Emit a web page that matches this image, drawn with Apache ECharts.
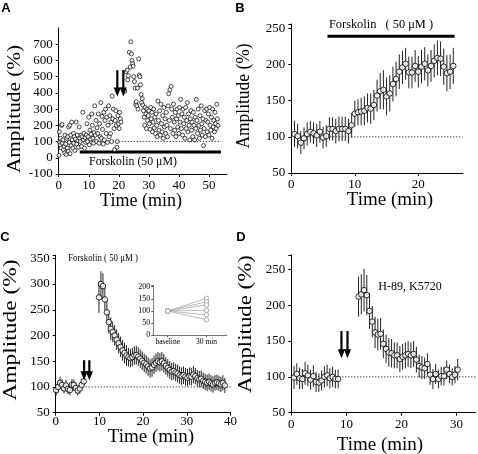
<!DOCTYPE html>
<html><head><meta charset="utf-8">
<script src="https://cdn.jsdelivr.net/npm/echarts@6/dist/echarts.min.js"></script>
<style>html,body{margin:0;padding:0;background:#fff}#c{width:478px;height:454px}</style>
</head><body><div id="c"></div>
<script>
// ---------- Panel A: individual amplitudes [time(min), amplitude(%)] ----------
const aPoints = [
[0.1,15],[0.2,160],[0.3,95],[0.5,80],[0.6,120],[0.8,60],[1.0,200],[1.1,205],[1.2,90],[1.4,110],[1.6,50],[1.8,70],[2.0,30],[2.1,140],[2.3,85],[2.5,20],[2.7,120],[2.9,60],[3.0,130],[3.2,40],[3.3,190],[3.5,95],[3.7,200],[3.8,25],[4.0,140],[4.2,75],[4.3,220],[4.5,110],[4.7,60],[4.9,150],[5.0,90],[5.2,130],[5.4,45],[5.6,115],[5.8,220],[6.0,85],[6.2,140],[6.4,105],[6.6,65],[6.8,190],[7.0,120],
[7.2,100],[7.4,140],[7.6,70],[7.8,130],[8.0,280],[8.2,110],[8.4,150],[8.6,60],[8.8,125],[9.0,95],[9.2,140],[9.4,210],[9.6,100],[9.8,130],[10.0,250],[10.2,80],[10.4,170],[10.6,115],[10.8,145],[11.0,270],[11.2,200],[11.4,120],[11.6,90],[11.8,155],[12.0,320],[12.2,140],[12.4,230],[12.6,100],[12.8,185],[13.0,150],[13.2,270],[13.4,90],[13.6,210],[13.8,130],[14.0,340],[14.2,120],[14.4,255],[14.6,175],[14.8,85],[15.0,280],[15.2,110],[15.4,230],[15.6,300],[15.8,150],[16.0,250],[16.2,95],[16.4,200],[16.6,320],[16.8,130],[17.0,260],[17.2,150],[17.4,220],[17.6,100],[17.8,380],[18.0,240],[18.2,300],[18.4,180],[18.6,50],[18.8,230],[19.0,290],[19.2,200],[19.4,65],[19.5,100],[19.7,260],[19.9,210],[20.1,180],[20.3,280],[20.5,240],[20.7,220],
[22.0,410],[22.4,530],[22.8,540],[23.0,480],[23.2,505],[23.5,650],[23.8,560],[24.0,715],[24.2,640],[24.4,600],[24.6,580],[24.8,565],[25.0,500],[25.2,470],[25.4,430],[25.6,330],[25.8,345],[26.0,320],[26.2,430],[26.4,300],[26.6,610],[26.8,510],[27.0,500],[27.2,450],[27.4,390],[27.6,340],[27.8,365],[28.0,325],[28.2,290],[28.4,250],
[28.6,200],[28.8,310],[29.0,270],[29.2,180],[29.4,300],[29.6,230],[29.8,260],[30.0,290],[30.2,210],[30.4,175],[30.6,310],[30.8,240],[31.0,280],[31.2,160],[31.4,220],[31.6,300],[31.8,185],[32.0,250],[32.2,150],[32.4,270],[32.6,200],[32.8,130],[33.0,350],[33.2,230],[33.4,170],[33.6,290],[33.8,140],[34.0,330],[34.2,210],[34.4,160],[34.6,260],[34.8,120],[35.0,310],[35.2,190],[35.4,240],[35.6,150],[35.8,280],[36.0,200],[36.2,130],[36.4,320],[36.6,395],[36.8,230],[37.0,420],[37.2,180],[37.4,440],[37.6,300],[37.8,250],[38.0,150],[38.2,330],[38.4,220],[38.6,170],[38.8,280],[39.0,130],[39.2,240],[39.4,300],[39.6,190],[39.8,260],[40.0,150],[40.2,310],[40.4,220],[40.6,360],[40.8,180],[41.0,270],[41.2,140],[41.4,300],[41.6,210],[41.8,250],[42.0,120],[42.2,310],[42.4,180],[42.6,230],[42.8,340],[43.0,160],[43.2,270],[43.4,200],[43.6,110],[43.8,240],[44.0,290],[44.2,170],[44.4,220],[44.6,130],[44.8,280],[45.0,200],[45.2,110],[45.4,250],[45.6,180],[45.8,360],[46.0,230],[46.2,150],[46.4,300],[46.6,200],[46.8,120],[47.0,260],[47.2,170],[47.4,320],[47.6,210],[47.8,140],[48.0,240],[48.2,75],[48.4,180],[48.6,290],[48.8,130],[49.0,230],[49.2,300],[49.4,160],[49.6,220],[49.8,270],[50.0,140],[50.2,310],[50.4,200],[50.6,170],[50.8,250],[51.0,120],[51.2,300],[51.4,190],[51.6,230],[51.8,160],[52.0,280],[52.2,210],[52.4,180],[52.6,330],[52.8,240],[53.0,200]
];
const aForskolin = [[7, 35], [54, 35]];
const aArrows = [19.5, 21.5];
const aArrowFrom = 540, aArrowTo = 378;
const aYTicks = [-100, 0, 100, 200, 300, 400, 500, 600, 700];

// ---------- Panel B ----------
const bTime = [0.5,1,1.5,2,2.5,3,3.5,4,4.5,5,5.5,6,6.5,7,7.5,8,8.5,9,9.5,10,10.5,11,11.5,12,12.5,13,13.5,14,14.5,15,15.5,16,16.5,17,17.5,18,18.5,19,19.5,20,20.5,21,21.5,22,22.5,23,23.5,24,24.5,25,25.5];
const bMean = [104,101,92,98,104,107,105,102,107,99,101,111,111,108,111,111,111,108,116,132,134,135,136,140,139,144,157,163,165,156,160,173,180,190,196,201,189,189,198,190,197,201,192,198,205,209,208,197,188,190,198];
const bErr  = [18,17,16,15,16,15,15,16,15,15,15,16,16,17,17,17,17,17,17,18,18,19,20,20,21,21,22,25,27,26,25,24,24,24,23,22,22,22,22,22,23,23,22,22,23,24,24,25,25,24,25];
const bForskolin = [[5.7, 239], [25.7, 239]];

// ---------- Panel C ----------
const cTime = [0.1,0.55,1.0,1.45,1.9,2.35,2.8,3.25,3.7,4.15,4.6,5.05,5.5,5.95,6.4,
9.9,10.35,10.8,11.25,11.7,12.15,12.6,13.05,13.5,13.95,14.4,14.85,15.3,15.75,16.2,16.65,17.1,17.55,18.0,18.45,18.9,19.35,19.8,20.25,20.7,21.15,21.6,22.05,22.5,22.95,23.4,23.85,24.3,24.75,25.2,25.65,26.1,26.55,27.0,27.45,27.9,28.35,28.8,29.25,29.7,30.15,30.6,31.05,31.5,31.95,32.4,32.85,33.3,33.75,34.2,34.65,35.1,35.55,36.0,36.45,36.9,37.35,37.8,38.25,38.7];
const cMean = [94,100,108,104,97,103,96,94,104,104,98,93,97,104,111,
274,300,296,270,245,226,213,207,200,192,185,178,171,166,161,158,156,158,161,162,159,155,151,147,144,140,136,138,143,147,150,148,150,146,141,137,133,130,131,128,126,123,121,123,120,118,121,120,124,121,117,115,116,112,110,108,110,107,105,108,109,107,105,108,103];
const cErr  = [11,11,12,11,10,11,10,10,11,11,10,10,10,11,11,
30,25,25,22,22,22,22,20,20,20,20,20,20,20,20,18,18,18,18,18,18,18,18,18,18,18,18,18,18,18,18,18,18,18,17,17,17,17,17,17,17,17,17,17,17,17,17,17,17,16,16,16,16,16,16,16,16,16,16,15,15,15,15,15,15];
const cArrows = [6.5, 7.7];
const cArrowFrom = 152, cArrowTo = 113;
// inset
const insetCats = ['baseline', '30 min'];
const insetX = [1, 3.7];
const insetBase = 100;
const insetEnd = [152, 138, 125, 103, 84, 64];

// ---------- Panel D ----------
const dTime = [0.5,1,1.5,2,2.5,3,3.5,4,4.5,5,5.5,6,6.5,7,7.5,8,8.5,
12.2,12.7,13.2,13.7,14.2,14.7,15.2,15.7,16.2,16.7,17.2,17.7,18.2,18.7,19.2,19.7,20.2,20.7,21.2,21.7,22.2,22.7,23.2,23.7,24.2,24.7,25.2,25.7,26.2,26.7,27.2,27.7,28.2,28.7,29.2,29.7,30.2];
const dMean = [99,104,98,97,105,102,96,101,93,92,95,100,102,98,100,97,97,
212,215,221,214,192,177,162,159,160,146,139,134,133,130,130,125,128,130,132,130,132,124,115,113,112,118,103,97,104,97,101,101,110,104,100,103,110];
const dErr  = [16,15,15,14,16,15,14,15,14,13,14,15,15,14,14,13,13,
28,28,30,28,25,22,22,22,22,20,20,20,20,18,18,18,18,18,18,18,18,18,16,16,15,15,14,14,14,13,13,13,13,13,12,12,15];
const dArrows = [9.1, 10.2];
const dArrowFrom = 164, dArrowTo = 126;

const baseline = 100;

// ---------- build ----------
const SERIF = '"Liberation Serif", "Times New Roman", serif';
const chart = echarts.init(document.getElementById('c'), null, {renderer: 'canvas'});

function axisCommon(extra) {
  return Object.assign({
    type: 'value',
    axisLine: {show: true, onZero: false, lineStyle: {color: '#000', width: 1}},
    axisTick: {show: true, inside: false, length: 3, lineStyle: {color: '#000'}},
    splitLine: {show: false},
    axisLabel: {color: '#000', fontFamily: SERIF, fontSize: 13, margin: 5}
  }, extra);
}
function xLab(margin, showMax) {
  return {color: '#000', fontFamily: SERIF, fontSize: 13, margin: margin, showMaxLabel: showMax};
}

function errRender(params, api) {
  const x = api.value(0), y = api.value(1), e = api.value(2);
  const p1 = api.coord([x, y - e]), p2 = api.coord([x, y + e]);
  return {type: 'line', shape: {x1: p1[0], y1: p1[1], x2: p2[0], y2: p2[1]},
          style: {stroke: '#222', lineWidth: 1}};
}
function arrowRender(params, api) {
  const x = api.value(0), from = api.value(1), to = api.value(2);
  const p1 = api.coord([x, from]), p2 = api.coord([x, to]);
  const head = 9, hw = 3.6;
  return {type: 'group', children: [
    {type: 'line', shape: {x1: p1[0], y1: p1[1], x2: p2[0], y2: p2[1] - head + 1},
     style: {stroke: '#000', lineWidth: 2.2}},
    {type: 'polygon', shape: {points: [[p2[0] - hw, p2[1] - head], [p2[0] + hw, p2[1] - head], [p2[0], p2[1]]]},
     style: {fill: '#000'}}
  ]};
}
function zip3(t, m, e) { return t.map((v, i) => [v, m[i], e[i]]); }
function zip2(t, m) { return t.map((v, i) => [v, m[i]]); }

function meanSeries(idx, t, m, e) {
  return [
    {type: 'custom', xAxisIndex: idx, yAxisIndex: idx, renderItem: errRender,
     encode: {x: 0, y: 1}, data: zip3(t, m, e), z: 3, silent: true},
    {type: 'scatter', xAxisIndex: idx, yAxisIndex: idx, data: zip2(t, m),
     symbol: 'circle', symbolSize: 5.5,
     itemStyle: {color: '#fff', borderColor: '#000', borderWidth: 1}, z: 4}
  ];
}
function dotted(idx, x0, x1) {
  return {type: 'line', xAxisIndex: idx, yAxisIndex: idx, data: [[x0, baseline], [x1, baseline]],
          symbol: 'none', lineStyle: {color: '#000', width: 1, type: [1, 2]}, z: 2, silent: true};
}
function bar(idx, pts) {
  return {type: 'line', xAxisIndex: idx, yAxisIndex: idx, data: pts, symbol: 'none',
          lineStyle: {color: '#000', width: 3}, z: 2, silent: true};
}
function arrows(idx, xs, from, to) {
  return {type: 'custom', xAxisIndex: idx, yAxisIndex: idx, renderItem: arrowRender,
    encode: {x: 0, y: [1, 2]}, data: xs.map(x => [x, from, to]), z: 6, silent: true};
}

const series = [];
// A
series.push(dotted(0, 0, 54));
series.push(bar(0, aForskolin));
series.push({type: 'scatter', xAxisIndex: 0, yAxisIndex: 0, data: aPoints, symbol: 'circle', symbolSize: 4,
  itemStyle: {color: '#fff', borderColor: '#000', borderWidth: 0.9}, z: 4});
series.push(arrows(0, aArrows, aArrowFrom, aArrowTo));
// B
series.push(dotted(1, 0, 27));
series.push(bar(1, bForskolin));
series.push(...meanSeries(1, bTime, bMean, bErr));
// C
series.push(dotted(2, 0, 40));
series.push(...meanSeries(2, cTime, cMean, cErr));
series.push(arrows(2, cArrows, cArrowFrom, cArrowTo));
// inset
insetEnd.forEach(v => {
  series.push({type: 'line', xAxisIndex: 4, yAxisIndex: 4, data: [[insetX[0], insetBase], [insetX[1], v]],
    symbol: 'circle', symbolSize: 4.5, lineStyle: {color: '#aaa', width: 0.8},
    itemStyle: {color: '#fff', borderColor: '#999', borderWidth: 0.8}, z: 5, silent: true});
});
// D
series.push(dotted(3, 0, 33.5));
series.push(...meanSeries(3, dTime, dMean, dErr));
series.push(arrows(3, dArrows, dArrowFrom, dArrowTo));

function gtext(text, x, y, size, opts) {
  opts = opts || {};
  return {type: 'text', x: x, y: y, rotation: opts.rot || 0, scaleX: opts.sx || 1, z: 10,
    style: {text: text, font: (opts.bold ? 'bold ' : '') + size + 'px ' + (opts.sans ? '"Liberation Sans", Arial, sans-serif' : SERIF),
      fill: '#000', textAlign: opts.align || 'center', textVerticalAlign: 'middle'}};
}

const option = {
  animation: false,
  backgroundColor: '#fff',
  grid: [
    {left: 58.7, top: 28, width: 168.3, height: 146},
    {left: 291.3, top: 24, width: 171.5, height: 149},
    {left: 55.7, top: 255.2, width: 174.8, height: 157.5},
    {left: 291.3, top: 255, width: 184.6, height: 157.7},
    {left: 153.3, top: 285.5, width: 73.4, height: 49.8}
  ],
  xAxis: [
    axisCommon({gridIndex: 0, min: 0, max: 56, interval: 10, axisLabel: xLab(5, false)}),
    axisCommon({gridIndex: 1, min: 0, max: 27, interval: 10, axisLabel: xLab(5, false)}),
    axisCommon({gridIndex: 2, min: 0, max: 40, interval: 10, axisLabel: xLab(2, true)}),
    axisCommon({gridIndex: 3, min: 0, max: 33.5, interval: 10, axisLabel: xLab(5, false)}),
    axisCommon({gridIndex: 4, min: 0, max: 5.1,
      axisLine: {show: true, onZero: false, lineStyle: {color: '#555', width: 0.8}},
      axisTick: {show: true, length: 2, customValues: insetX, lineStyle: {color: '#555'}},
      axisLabel: {color: '#000', fontFamily: SERIF, fontSize: 7.5, margin: 3, customValues: insetX,
        formatter: v => { const i = insetX.indexOf(v); return i >= 0 ? insetCats[i] : ''; }}})
  ],
  yAxis: [
    axisCommon({gridIndex: 0, min: -100, max: 800, interval: 100,
      axisTick: {show: true, length: 3, customValues: aYTicks, lineStyle: {color: '#000'}},
      axisLabel: {color: '#000', fontFamily: SERIF, fontSize: 13, margin: 6, customValues: aYTicks,
        formatter: v => (v > 700 ? '' : String(v))}}),
    axisCommon({gridIndex: 1, min: 50, max: 256, interval: 50,
      axisLabel: {color: '#000', fontFamily: SERIF, fontSize: 13, margin: 6, formatter: v => (v > 250 ? '' : String(v))}}),
    axisCommon({gridIndex: 2, min: 50, max: 356, interval: 50,
      axisLabel: {color: '#000', fontFamily: SERIF, fontSize: 13, margin: 6, formatter: v => (v > 350 ? '' : String(v))}}),
    axisCommon({gridIndex: 3, min: 50, max: 270, interval: 50,
      axisLabel: {color: '#000', fontFamily: SERIF, fontSize: 13, margin: 6, formatter: v => (v > 250 ? '' : String(v))}}),
    axisCommon({gridIndex: 4, min: 0, max: 205, interval: 50,
      axisLine: {show: true, onZero: false, lineStyle: {color: '#555', width: 0.8}},
      axisTick: {show: true, length: 2, lineStyle: {color: '#555'}},
      axisLabel: {color: '#000', fontFamily: SERIF, fontSize: 8, margin: 3, formatter: v => (v > 200 ? '' : String(v))}})
  ],
  series: series,
  graphic: [
    gtext('A', 6, 8, 13, {bold: true, sans: true}),
    gtext('B', 240, 8, 13, {bold: true, sans: true}),
    gtext('C', 5, 237, 13, {bold: true, sans: true}),
    gtext('D', 241, 237, 13, {bold: true, sans: true}),
    gtext('Amplitude (%)', 15, 109, 19, {rot: Math.PI / 2, sx: 1.12}),
    gtext('Amplitude (%)', 244, 96, 18, {rot: Math.PI / 2, sx: 0.97}),
    gtext('Amplitude (%)', 11, 330, 18, {rot: Math.PI / 2, sx: 1.3}),
    gtext('Amplitude (%)', 246, 324, 18, {rot: Math.PI / 2, sx: 1.27}),
    gtext('Time (min)', 141, 201, 18),
    gtext('Time (min)', 390, 200, 19),
    gtext('Time (min)', 151, 437, 19),
    gtext('Time (min)', 380, 445, 19),
    gtext('Forskolin (50 \u03bcM)', 133, 162, 13, {sx: 0.91}),
    gtext('Forskolin   ( 50 \u03bcM )', 381, 25, 13, {sx: 0.95}),
    gtext('Forskolin ( 50 \u03bcM )', 103, 258, 11, {sx: 0.8}),
    gtext('H-89, K5720', 410, 287, 12)
  ]
};
chart.setOption(option);
</script>
</body></html>
